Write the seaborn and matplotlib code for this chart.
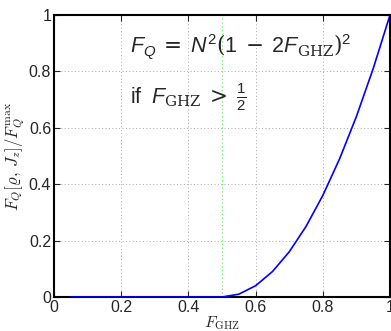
import numpy as np
import pandas as pd
import matplotlib
matplotlib.use("Agg")
import matplotlib.pyplot as plt
import seaborn as sns

f_ghz = [0.05, 0.10, 0.15, 0.20, 0.25, 0.30, 0.35, 0.40, 0.45, 0.50,
         0.55, 0.60, 0.65, 0.70, 0.75, 0.80, 0.85, 0.90, 0.95, 1.00]
fq_ratio = [0, 0, 0, 0, 0, 0, 0, 0, 0, 0,
            0.01, 0.04, 0.09, 0.16, 0.25, 0.36, 0.49, 0.64, 0.81, 1.00]
x_ticks = [0, 0.2, 0.4, 0.6, 0.8, 1]
x_tick_labels = ["0", "0.2", "0.4", "0.6", "0.8", "1"]
y_ticks = [0, 0.2, 0.4, 0.6, 0.8, 1]
y_tick_labels = ["0", "0.2", "0.4", "0.6", "0.8", "1"]
threshold = 0.5

sns.set_style("ticks")
plt.rcParams['font.family'] = ['Liberation Sans', 'DejaVu Sans']
plt.rcParams['mathtext.fontset'] = 'custom'
plt.rcParams['mathtext.rm'] = 'DejaVu Serif'
plt.rcParams['mathtext.it'] = 'Liberation Sans:italic'
plt.rcParams['mathtext.sf'] = 'Liberation Sans'

df = pd.DataFrame({"F": f_ghz, "R": fq_ratio})

fig = plt.figure(figsize=(3.91, 3.31), dpi=100)
ax = fig.add_axes([54/391, 1 - 297/331, 336/391, 282/331])

ax.grid(True, color='#a8a8a8', linestyle=(0, (1, 2.5)), linewidth=0.7)
ax.axvline(threshold, color='#66ee66', linestyle=(0, (1, 2)), linewidth=0.9, zorder=1)
sns.lineplot(data=df, x="F", y="R", ax=ax, color='#0000ff', linewidth=1.2, zorder=3)

ax.set_xlim(0, 1)
ax.set_ylim(0, 1)
ax.set_xticks(x_ticks)
ax.set_xticklabels(x_tick_labels)
ax.set_yticks(y_ticks)
ax.set_yticklabels(y_tick_labels)
ax.tick_params(direction='in', top=True, right=True, labelsize=11.5, length=4,
               width=0.8, pad=2)
for s in ax.spines.values():
    s.set_linewidth(1.5)
    s.set_color('black')

ax.set_xlabel(r'$F_{\rm GHZ}$', fontsize=11.5, math_fontfamily='cm', labelpad=0)
ax.set_ylabel(r'$F_Q[\varrho,\, J_z]/F_Q^{\max}$', fontsize=12, math_fontfamily='cm', labelpad=1)

ax.text(130/391, 1 - 52/331,
        r'$F_Q \;=\; N^\mathsf{2}(\mathsf{1} \;-\; \mathsf{2}F_\mathrm{GHZ})^\mathsf{2}$',
        transform=fig.transFigure, fontsize=15.5, ha='left', va='baseline')
ax.text(130/391, 1 - 103/331,
        r'if $\;F_\mathrm{GHZ} \;>\; \frac{\mathsf{1}}{\mathsf{2}}$',
        transform=fig.transFigure, fontsize=15.5, ha='left', va='baseline')

fig.savefig("out.png", dpi=100)
